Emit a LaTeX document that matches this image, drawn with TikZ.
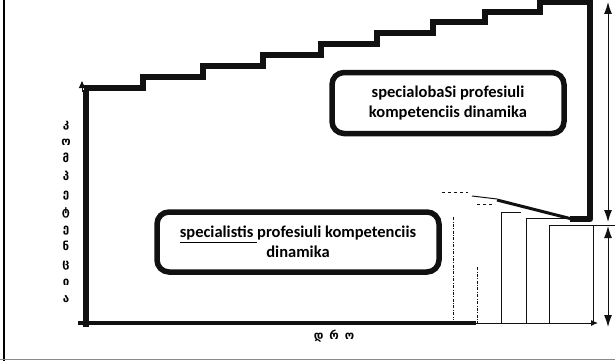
\documentclass[tikz,border=0pt]{standalone}
\usepackage{fontspec}
\setmainfont{Carlito}
\newfontfamily\geofont{DejaVu Sans}
\usetikzlibrary{arrows.meta,positioning}
\definecolor{ink}{HTML}{111111}
\definecolor{framegray}{HTML}{8A8A8A}

\begin{document}
\begin{tikzpicture}[x=1pt,y=-1pt,
  font=\bfseries\fontsize{16.5}{20}\selectfont,
  blob/.style={draw=ink,line width=5.5pt,rounded corners=12pt,inner sep=0pt,align=center},
  stair/.style={draw=ink,line width=5.5pt,line join=miter},
  bar/.style={draw=ink,line width=1pt},
  guide/.style={draw=ink,line width=0.8pt,dash pattern=on 3pt off 1.5pt on 0.8pt off 1.5pt},
  dim/.style={{Latex[length=12pt,width=8pt]}-{Latex[length=12pt,width=8pt]},draw=ink,line width=1pt},
  axislabel/.style={font=\geofont\bfseries\fontsize{11.5}{17.5}\selectfont,align=center,inner sep=0pt}
]
\useasboundingbox (0,0) rectangle (615,361);
\draw[line width=1.5pt] (4,0) -- (4,361);
\draw[framegray,line width=1pt] (0,359.5) -- (615,359.5);

% axes
\draw[ink,line width=6.5pt] (86,327) -- (86,90);
\draw[ink,line width=1pt,-{Triangle[length=7pt,width=6pt]}] (82,92) -- (82,81);
\draw[ink,line width=4.5pt] (78,323) -- (476,323);
\draw[bar,-{Latex[length=7pt,width=6pt]}] (476,323) -- (598,323);

% upper staircase
\draw[stair] (84,88) -| (143,77) -| (203,66) -| (263,55) -| (321,44) -| (377,33)
  -| (433,22) -| (485,12) -| (540,2) -- (587,2);
\draw[ink,line width=6.5pt,line join=round] (590,0) -- (590,219) -- (570,219);
\draw[ink,line width=3pt] (572,219) -- (497,200);
\draw[bar] (472,196) -- (497,199);
\draw[ink,line width=0.8pt,dashed] (442,192) -- (468,192);
\draw[ink,line width=0.8pt,dashed] (477,204) -- (495,204);

% lower bars
\draw[bar] (501,323) |- (521,212);
\draw[bar] (526,323) |- (566,218);
\draw[bar] (549,323) |- (615,225);
\draw[bar] (593,225) -- (593,323);
\draw[guide] (453,217) -- (453,320);
\draw[guide] (477,267) -- (477,323);

% dimensions
\coordinate (top) at (608,2);
\coordinate (mid) at (608,222);
\coordinate (midb) at (608,226);
\coordinate (base) at (608,327);
\draw[dim] (top) -- (mid);
\draw[dim] (midb) -- (base);

\node[blob,minimum width=232pt,minimum height=61pt] (spec) at (448,103)
  {specialobaSi profesiuli\\kompetenciis dinamika};
\node[blob,minimum width=282pt,minimum height=60pt] (prof) at (298,242)
  {\underline{specialistis\ }profesiuli kompetenciis\\dinamika};

\node[axislabel] (ylab) at (66,212) {კ\\ო\\მ\\პ\\ე\\ტ\\ე\\ნ\\ც\\ი\\ა};
\node[axislabel] (xlab) at (334,336) {დ\hspace{6pt}რ\hspace{6pt}ო};
\end{tikzpicture}
\end{document}
